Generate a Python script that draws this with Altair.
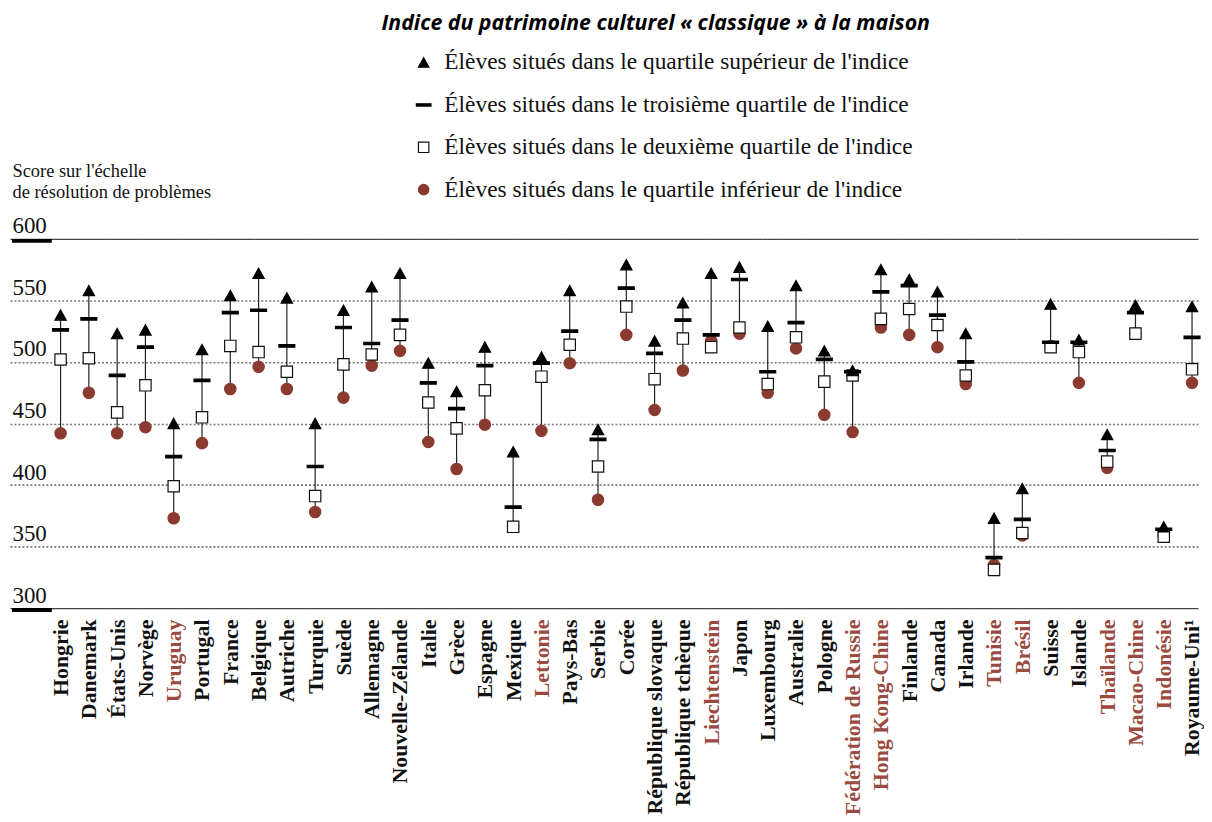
import altair as alt
import pandas as pd

countries = ["Hongrie", "Danemark", "États-Unis", "Norvège", "Uruguay", "Portugal", "France",
             "Belgique", "Autriche", "Turquie", "Suède", "Allemagne", "Nouvelle-Zélande", "Italie",
             "Grèce", "Espagne", "Mexique", "Lettonie", "Pays-Bas", "Serbie", "Corée",
             "République slovaque", "République tchèque", "Liechtenstein", "Japon", "Luxembourg",
             "Australie", "Pologne", "Fédération de Russie", "Hong Kong-Chine", "Finlande", "Canada",
             "Irlande", "Tunisie", "Brésil", "Suisse", "Islande", "Thaïlande", "Macao-Chine",
             "Indonésie", "Royaume-Uni¹"]

partners = ["Uruguay", "Lettonie", "Liechtenstein", "Fédération de Russie", "Hong Kong-Chine",
            "Tunisie", "Brésil", "Thaïlande", "Macao-Chine", "Indonésie"]

top_q = [538, 558, 523, 526, 450, 510, 554, 572, 552, 450, 542, 561, 572, 499, 476, 512, 427, 504,
         558, 445, 579, 517, 548, 572, 577, 529, 562, 509, 493, 575, 567, 557, 523, 373, 397, 547,
         518, 441, 546, 366, 545]
third_q = [526, 535, 489, 512, 423, 485, 540, 542, 513, 415, 528, 515, 534, 483, 462, 497, 382, 499,
           525, 437, 560, 507, 534, 522, 567, 492, 532, 502, 492, 557, 562, 538, 500, 341, 372, 516,
           516, 428, 540, 364, 520]
second_q = [502, 503, 459, 481, 399, 455, 513, 508, 492, 391, 498, 506, 522, 467, 446, 477, 366, 488,
            514, 415, 545, 486, 519, 512, 528, 482, 520, 484, 489, 535, 543, 530, 489, 331, 361, 512,
            508, 419, 523, 358, 494]
bottom_q = [442, 475, 442, 447, 373, 434, 478, 496, 478, 378, 471, 497, 509, 435, 413, 449, 366, 444,
            499, 388, 522, 461, 493, 517, 523, 475, 511, 457, 443, 528, 522, 512, 482, 335, 359, 513,
            483, 414, 523, 359, 483]

series_labels = [
    "Élèves situés dans le quartile supérieur de l'indice",
    "Élèves situés dans le troisième quartile de l'indice",
    "Élèves situés dans le deuxième quartile de l'indice",
    "Élèves situés dans le quartile inférieur de l'indice",
]
y_ticks = [300, 350, 400, 450, 500, 550, 600]
frame_values = [600, 300]

legend_title = "Indice du patrimoine culturel « classique » à la maison"
y_title = ["Score sur l'échelle", "de résolution de problèmes"]

RED = "#8B3A2F"
SERIF = "Liberation Serif"

wide = pd.DataFrame({"pays": countries, "haut": top_q, "bas": bottom_q})

rows = []
for lab, vals in [(series_labels[3], bottom_q), (series_labels[2], second_q),
                  (series_labels[1], third_q), (series_labels[0], top_q)]:
    for c, v in zip(countries, vals):
        rows.append({"pays": c, "serie": lab, "score": v})
long = pd.DataFrame(rows)

x_enc = alt.X(
    "pays:N", sort=countries, title=None,
    scale=alt.Scale(type="point", padding=1.354, align=0.894, round=False),
    axis=alt.Axis(
        orient="bottom", domain=False, ticks=False, grid=False,
        labelAngle=270, labelAlign="right", labelBaseline="middle", labelPadding=11,
        labelFont=SERIF, labelFontSize=22, labelFontWeight="bold", labelLimit=400,
        labelOverlap=False,
        labelColor={"condition": {"test": "indexof(" + str(partners) + ", datum.value) >= 0",
                                  "value": "#9A4A3E"}, "value": "#111111"},
    ),
)

y_scale = alt.Scale(domain=[300, 600], nice=False, zero=False)
y_axis = alt.Axis(
    values=y_ticks, orient="left", domain=False, ticks=False, tickSize=0,
    labelAlign="left", labelBaseline="alphabetic", labelPadding=-2, labelOffset=-6,
    labelFont=SERIF, labelFontSize=23, labelColor="#111111", labelFlush=False, labelOverlap=False,
    grid=True,
    gridDash={"condition": {"test": "datum.value == 300 || datum.value == 600", "value": [1, 0]},
              "value": [2, 2]},
    gridColor={"condition": {"test": "datum.value == 300 || datum.value == 600", "value": "#444444"},
               "value": "#777777"},
    gridWidth={"condition": {"test": "datum.value == 300 || datum.value == 600", "value": 1.3},
               "value": 1.6},
    title=y_title, titleAngle=0, titleAlign="left", titleBaseline="top", titleX=2, titleY=-78,
    titleFont=SERIF, titleFontSize=18.5, titleFontWeight="normal", titleColor="#111111",
    titleLineHeight=21,
)

lines = alt.Chart(wide).mark_rule(color="#222222", strokeWidth=1.2).encode(
    x=x_enc,
    y=alt.Y("haut:Q", scale=y_scale, axis=y_axis),
    y2="bas:Q",
)

tri = "M0,-0.9L1,0.9L-1,0.9Z"
dash = "M-1.4,-0.22L1.4,-0.22L1.4,0.22L-1.4,0.22Z"

legend = alt.Legend(
    orient="none", legendX=404, legendY=-189, title=None,
    labelFont=SERIF, labelFontSize=23.5, labelColor="#111111", rowPadding=17.6,
    symbolSize=110, labelOffset=9, labelLimit=800, symbolStrokeWidth=1.2,
)

points = alt.Chart(long).mark_point(opacity=1, size=130, strokeWidth=1.2).encode(
    x=alt.X("pays:N", sort=countries),
    y=alt.Y("score:Q", scale=y_scale),
    shape=alt.Shape("serie:N", scale=alt.Scale(domain=series_labels,
                                               range=[tri, dash, "square", "circle"]),
                    legend=legend),
    fill=alt.Fill("serie:N", scale=alt.Scale(domain=series_labels,
                                             range=["#000000", "#000000", "#ffffff", RED]),
                  legend=legend),
    stroke=alt.Stroke("serie:N", scale=alt.Scale(domain=series_labels,
                                                 range=["#000000", "#000000", "#111111", RED]),
                      legend=legend),
)

frame = alt.Chart(pd.DataFrame({"v": frame_values})).mark_rule(
    color="#000000", strokeWidth=4, yOffset=2
).encode(
    y=alt.Y("v:Q", scale=y_scale),
    x=alt.value(2), x2=alt.value(42),
)

title_text = alt.Chart(pd.DataFrame({"t": [legend_title]})).mark_text(
    font="Open Sans", fontSize=21.4, fontWeight="bold", fontStyle="italic",
    align="center", baseline="middle", color="#000000",
).encode(text="t:N", x=alt.value(649), y=alt.value(-216))

chart = alt.layer(lines, points, frame, title_text).properties(
    width=1194, height=371,
    autosize=alt.AutoSizeParams(type="none"),
    padding={"left": 2, "top": 230, "right": 6, "bottom": 212},
).configure_view(stroke=None)

chart.save("out.html", embed_options={"renderer": "svg", "actions": False})
